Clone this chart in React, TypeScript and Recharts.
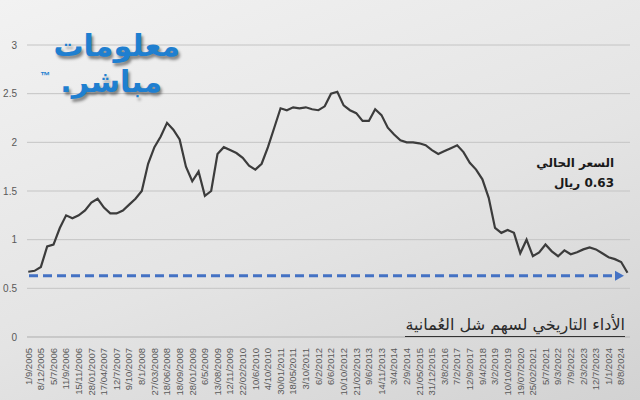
import React from 'react';
import { LineChart, Line, XAxis, YAxis, CartesianGrid, ReferenceLine } from 'recharts';

const dateLabels = [
  '1/9/2005', '8/12/2005', '5/7/2006', '11/9/2006', '15/11/2006', '28/01/2007', '17/04/2007', '12/7/2007',
  '9/10/2007', '8/1/2008', '27/03/2008', '18/06/2008', '18/09/2008', '28/01/2009', '6/5/2009', '13/08/2009',
  '12/11/2009', '22/02/2010', '10/6/2010', '4/10/2010', '30/01/2011', '18/05/2011', '3/10/2011', '6/2/2012',
  '6/6/2012', '10/10/2012', '21/02/2013', '9/6/2013', '14/11/2013', '3/4/2014', '2/9/2014', '21/05/2015',
  '31/12/2015', '3/8/2016', '7/2/2017', '12/9/2017', '9/4/2018', '3/2/2019', '10/10/2019', '19/07/2020',
  '25/02/2021', '5/7/2021', '9/3/2022', '7/9/2022', '2/3/2023', '12/7/2023', '1/1/2024', '8/8/2024',
];

// price sampled twice per label interval
const prices = [
  0.67, 0.68, 0.72, 0.93, 0.95, 1.12, 1.25, 1.22, 1.25, 1.3,
  1.38, 1.42, 1.33, 1.27, 1.27, 1.3, 1.36, 1.42, 1.5, 1.78,
  1.95, 2.06, 2.2, 2.13, 2.03, 1.75, 1.6, 1.7, 1.45, 1.5,
  1.88, 1.95, 1.92, 1.89, 1.84, 1.76, 1.72, 1.78, 1.95, 2.15,
  2.35, 2.33, 2.36, 2.35, 2.36, 2.34, 2.33, 2.37, 2.5, 2.52,
  2.38, 2.33, 2.3, 2.22, 2.22, 2.34, 2.28, 2.15, 2.08, 2.02,
  2.0, 2.0, 1.99, 1.97, 1.92, 1.88, 1.91, 1.94, 1.97, 1.9,
  1.79, 1.72, 1.62, 1.43, 1.12, 1.07, 1.1, 1.07, 0.86, 1.0,
  0.83, 0.87, 0.95, 0.88, 0.83, 0.89, 0.85, 0.87, 0.9, 0.92,
  0.9, 0.86, 0.82, 0.8, 0.77, 0.66,
];

const currentPrice = 0.63;
const yTicks = [0, 0.5, 1, 1.5, 2, 2.5, 3];
const titleText = 'الأداء التاريخي لسهم شل العُمانية';
const priceLabel = 'السعر الحالي';
const priceValue = '0.63 ريال';

const data = prices.map((p, i) => ({ idx: i / 2, price: p }));
const xTicks = dateLabels.map((_, i) => i);

const XTick = (props: any) => {
  const { x, y, payload } = props;
  const ty = y + 3;
  return (
    <text
      x={x}
      y={ty}
      transform={`rotate(-90, ${x}, ${ty})`}
      textAnchor="end"
      dy="0.35em"
      fontSize={9.5}
      fill="#595959"
      fontFamily="Liberation Sans, Arial, sans-serif"
    >
      {dateLabels[payload.value]}
    </text>
  );
};

const YTick = (props: any) => {
  const { x, y, payload } = props;
  return (
    <text x={x - 2} y={y} textAnchor="end" dy="0.35em" fontSize={10} fill="#595959" fontFamily="Liberation Sans, Arial, sans-serif">
      {payload.value}
    </text>
  );
};

const ArrowLine = (props: any) => {
  const { x1, y1, x2 } = props;
  if (x1 == null) return null;
  const end = x2 - 6;
  return (
    <g>
      <line x1={x1 + 2} y1={y1} x2={end - 8} y2={y1} stroke="#4472c4" strokeWidth={3} strokeDasharray="9 5" />
      <polygon points={`${end - 9},${y1 - 5} ${end},${y1} ${end - 9},${y1 + 5}`} fill="#4472c4" />
    </g>
  );
};

export default function App() {
  return (
    <div
      style={{
        position: 'absolute',
        left: 0,
        top: 0,
        width: 640,
        height: 400,
        background: 'linear-gradient(160deg, #f2f2f2 0%, #e4e4e4 55%, #d2d2d2 100%)',
        overflow: 'hidden',
      }}
    >
      <LineChart width={640} height={400} data={data} margin={{ top: 45, right: 10, left: 0, bottom: 0 }}>
        <CartesianGrid vertical={false} stroke="#c4c4c4" />
        <XAxis
          dataKey="idx"
          type="number"
          domain={[-0.1, 47.7]}
          ticks={xTicks}
          interval={0}
          tick={<XTick />}
          tickLine={false}
          axisLine={{ stroke: '#bdbdbd' }}
          height={63}
        />
        <YAxis
          domain={[0, 3]}
          ticks={yTicks}
          tick={<YTick />}
          tickLine={false}
          axisLine={false}
          width={27}
        />
        <ReferenceLine y={currentPrice} shape={<ArrowLine />} ifOverflow="extendDomain" />
        <Line
          type="linear"
          dataKey="price"
          stroke="#3c3c3c"
          strokeWidth={2.2}
          dot={false}
          isAnimationActive={false}
        />
      </LineChart>

      <div
        style={{
          position: 'absolute',
          left: 45,
          top: 28,
          width: 135,
          textAlign: 'right',
          direction: 'rtl',
          fontFamily: 'DejaVu Sans, sans-serif',
          fontWeight: 'bold',
          fontSize: 30,
          lineHeight: '36px',
          color: '#1f7fd0',
          textShadow: '2px 3px 3px rgba(0,0,0,0.45)',
        }}
      >
        <div>معلومات</div>
        <div style={{ marginRight: 18 }}>مباشر.</div>
      </div>
      <div style={{ position: 'absolute', left: 40, top: 70, fontSize: 10, fontWeight: 'bold', color: '#1f7fd0', fontFamily: 'Liberation Sans, sans-serif' }}>™</div>

      <div
        style={{
          position: 'absolute',
          right: 26,
          top: 153,
          direction: 'rtl',
          textAlign: 'right',
          fontFamily: 'DejaVu Sans, sans-serif',
          fontWeight: 'bold',
          fontSize: 12,
          lineHeight: '20px',
          color: '#1a1a1a',
        }}
      >
        <div>{priceLabel}</div>
        <div>{priceValue}</div>
      </div>

      <div
        style={{
          position: 'absolute',
          right: 15,
          top: 314,
          whiteSpace: 'nowrap',
          direction: 'rtl',
          textAlign: 'right',
          fontFamily: 'DejaVu Sans, sans-serif',
          fontSize: 16,
          lineHeight: '22px',
          color: '#2a2a2a',
          borderBottom: '1.5px solid #333',
        }}
      >
        {titleText}
      </div>
    </div>
  );
}
